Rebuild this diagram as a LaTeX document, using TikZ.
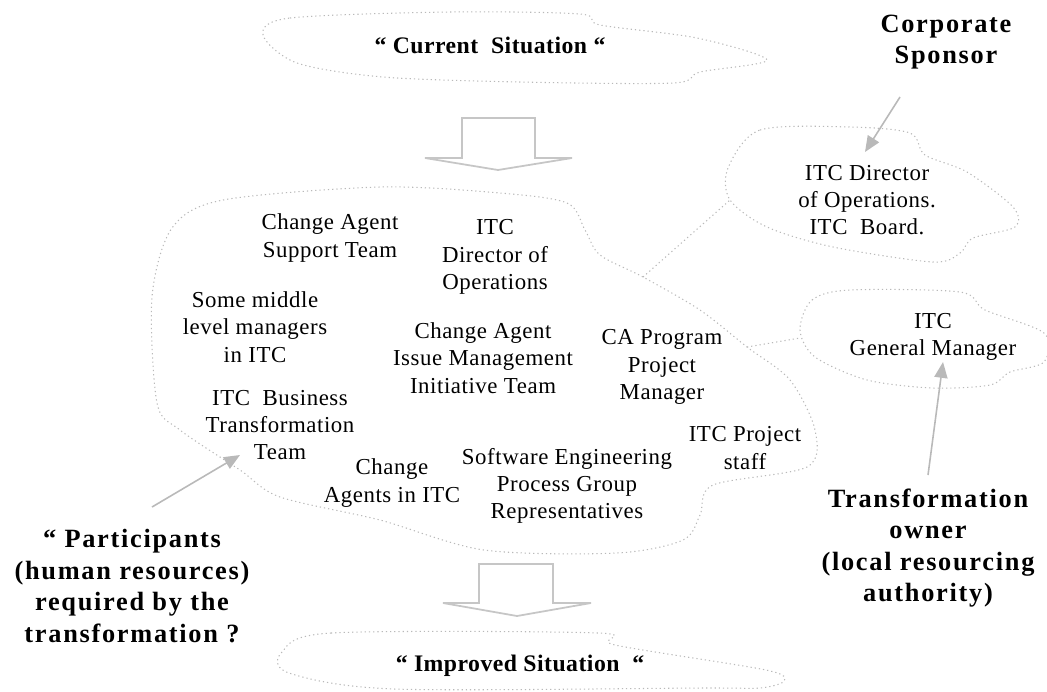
\documentclass[tikz,border=0pt]{standalone}
\usepackage{fontspec}
\setmainfont{Liberation Serif}
\newfontfamily\memberserif[LetterSpace=2.5]{Liberation Serif}
\newfontfamily\calloutserif[LetterSpace=6.5]{Liberation Serif}
\newfontfamily\situationserif[LetterSpace=2]{Liberation Serif}
\usetikzlibrary{arrows.meta}

\tikzset{
  cloudline/.style={draw=gray!55, line width=0.6pt, dash pattern=on 0.7pt off 1.7pt},
  member/.style={align=center, inner sep=0pt, font=\memberserif\fontsize{13}{15.5}\selectfont},
  callout/.style={align=center, inner sep=0pt, font=\calloutserif\bfseries\fontsize{15}{18}\selectfont},
  situation/.style={inner sep=0pt, font=\situationserif\bfseries\fontsize{13.5}{16}\selectfont},
  pointer/.style={draw=gray!55, line width=0.9pt, -{Triangle[length=9pt,width=7.5pt]}},
  blockarrow/.style={draw=gray!45, line width=1pt, fill=white, line join=miter}
}

\begin{document}
\begin{tikzpicture}[x=0.02cm,y=-0.02cm]
    \useasboundingbox (0,0) rectangle (1047,691);

    % clouds
    \draw[cloudline] plot[smooth cycle, tension=0.5] coordinates {
        (263,35) (290,18) (450,12) (580,14) (600,25) (697,38) (767,60)
        (700,72) (673,83) (520,82) (383,77) (297,63)};
    \draw[cloudline] plot[smooth cycle, tension=0.5] coordinates {
        (172,228) (223,200) (380,187) (500,193) (567,203) (585,230)
        (600,255) (643,277) (700,310) (747,347) (790,380) (815,430)
        (807,467) (713,485) (700,515) (683,540) (617,553) (484,550)
        (380,520) (280,497) (240,470) (180,430) (157,403) (152,297)};
    \draw[cloudline] plot[smooth cycle, tension=0.5] coordinates {
        (728,168) (760,130) (850,127) (910,133) (925,155) (967,172)
        (1013,207) (1015,227) (973,238) (960,253) (933,262) (833,247)
        (767,227) (730,200)};
    \draw[cloudline] plot[smooth cycle, tension=0.5] coordinates {
        (800,330) (812,300) (850,290) (960,292) (985,310) (1044,333)
        (1044,362) (1010,372) (990,385) (933,388) (867,380) (815,357)};
    \draw[cloudline] plot[smooth cycle, tension=0.5] coordinates {
        (282,652) (331,633) (598,633) (615,645) (766,670) (784,681)
        (760,688) (703,688) (394,689) (289,673)};
    \draw[cloudline] (643,277) -- (730,200);
    \draw[cloudline] (747,347) -- (800,338);

    % block arrows
    \draw[blockarrow] (462,118) -- (535,118) -- (535,158) -- (572,158)
        -- (498,170) -- (425,158) -- (462,158) -- cycle;
    \draw[blockarrow] (479,564) -- (553,564) -- (553,603) -- (591,603)
        -- (517,616) -- (443,603) -- (479,603) -- cycle;

    % situations
    \node[situation] (current) at (490,45) {“ Current\ \ Situation “};
    \node[situation] (improved) at (520,666) {“ Improved Situation\ \ “};

    % participants
    \node[member] (supportteam) at (330,238) {Change Agent\\Support Team};
    \node[member] (director) at (495,257) {ITC\\Director of\\Operations};
    \node[member] (middle) at (255,327) {Some middle\\level managers\\in ITC};
    \node[member] (issueteam) at (483,358) {Change Agent\\Issue Management\\Initiative Team};
    \node[member] (caprogram) at (662,367) {CA Program\\Project\\Manager};
    \node[member] (bizteam) at (280,425) {ITC\ \ Business\\Transformation\\Team};
    \node[member] (projectstaff) at (745,448) {ITC Project\\staff};
    \node[member] (changeagents) at (392,483) {Change\\Agents in ITC};
    \node[member] (sepg) at (567,486) {Software Engineering\\Process Group\\Representatives};
    \node[member] (board) at (867,200) {ITC Director\\of Operations.\\ITC\ \ Board.};
    \node[member] (gm) at (933,337) {ITC\\General Manager};

    % callouts
    \node[callout] (sponsor) at (946,42) {Corporate\\Sponsor};
    \node[callout] (owner) at (928,548) {Transformation\\owner\\(local resourcing\\authority)};
    \node[callout] (participants) at (132,586) {“ Participants\\(human resources)\\required by the\\transformation ?};

    \coordinate (sponsortail) at (900,97);
    \coordinate (boardtip) at (865,152);
    \coordinate (ownertail) at (928,475);
    \coordinate (gmtip) at (943,362);
    \coordinate (participantstail) at (152,507);
    \coordinate (bizteamtip) at (240,455);
    \draw[pointer] (sponsortail) -- (boardtip);
    \draw[pointer] (ownertail) -- (gmtip);
    \draw[pointer] (participantstail) -- (bizteamtip);
\end{tikzpicture}
\end{document}
